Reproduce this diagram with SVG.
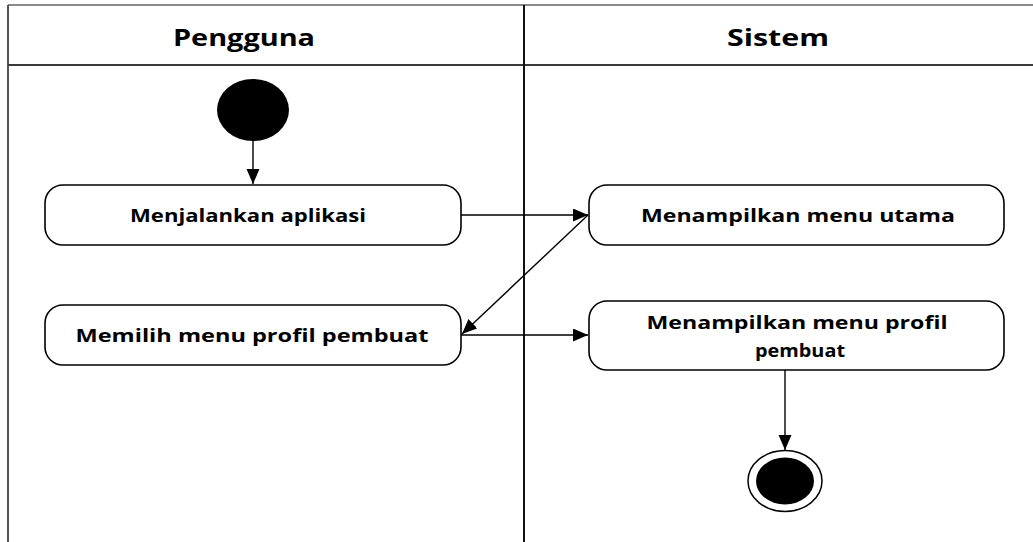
<svg xmlns="http://www.w3.org/2000/svg" width="1033" height="542" viewBox="0 0 1033 542">
  <style>
    .lane { fill: none; stroke-width: 2; }
    .act { fill: #ffffff; stroke: #000000; stroke-width: 1.6; }
    .label { font-family: "Open Sans", "Liberation Sans", sans-serif; font-weight: bold; font-size: 18.5px; fill: #000000; text-anchor: middle; }
    .head { font-family: "Open Sans", "Liberation Sans", sans-serif; font-weight: bold; font-size: 24px; fill: #000000; text-anchor: middle; }
    .flow { fill: none; stroke: #000000; stroke-width: 1.4; marker-end: url(#arrow); }
  </style>
  <defs>
    <marker id="arrow" markerUnits="userSpaceOnUse" markerWidth="16" markerHeight="14" refX="15" refY="6.5" orient="auto">
      <path d="M0,0 L15,6.5 L0,13 Z" fill="#000000"/>
    </marker>
  </defs>

  <rect width="1033" height="542" fill="#ffffff"/>

  <!-- swimlane frame -->
  <g id="swimlanes">
    <line class="lane" x1="8" y1="5" x2="1033" y2="5" stroke="#8a8a8a"/>
    <line class="lane" x1="8" y1="5" x2="8" y2="542" stroke="#555555"/>
    <line class="lane" x1="8" y1="65" x2="1033" y2="65" stroke="#3a3a3a"/>
    <line class="lane" x1="524" y1="5" x2="524" y2="542" stroke="#111111" stroke-width="1.6"/>
    <text class="head" x="244" y="46" textLength="142" lengthAdjust="spacingAndGlyphs">Pengguna</text>
    <text class="head" x="778" y="46" textLength="102" lengthAdjust="spacingAndGlyphs">Sistem</text>
  </g>

  <!-- start node -->
  <g id="start">
    <ellipse cx="253" cy="110" rx="36" ry="31" fill="#000000"/>
  </g>

  <g id="menjalankan-aplikasi">
    <rect class="act" x="45" y="185" width="416" height="60" rx="18" ry="18"/>
    <text class="label" x="248" y="222" textLength="236" lengthAdjust="spacingAndGlyphs">Menjalankan aplikasi</text>
  </g>

  <g id="memilih-menu-profil">
    <rect class="act" x="45" y="305" width="416" height="60" rx="18" ry="18"/>
    <text class="label" x="252" y="342" textLength="353" lengthAdjust="spacingAndGlyphs">Memilih menu profil pembuat</text>
  </g>

  <g id="menampilkan-menu-utama">
    <rect class="act" x="589" y="185" width="415" height="60" rx="18" ry="18"/>
    <text class="label" x="798" y="222" textLength="314" lengthAdjust="spacingAndGlyphs">Menampilkan menu utama</text>
  </g>

  <g id="menampilkan-menu-profil">
    <rect class="act" x="589" y="301" width="415" height="69" rx="18" ry="18"/>
    <text class="label" x="797" y="329" textLength="301" lengthAdjust="spacingAndGlyphs">Menampilkan menu profil</text>
    <text class="label" x="800" y="357" textLength="90" lengthAdjust="spacingAndGlyphs">pembuat</text>
  </g>

  <!-- final node -->
  <g id="end">
    <ellipse cx="785" cy="481" rx="37" ry="30.5" fill="#ffffff" stroke="#000000" stroke-width="1.5"/>
    <ellipse cx="785" cy="481" rx="29" ry="23.5" fill="#000000"/>
  </g>

  <!-- control flows -->
  <g id="connectors">
    <line class="flow" x1="253" y1="141" x2="253" y2="184"/>
    <line class="flow" x1="461" y1="215" x2="588" y2="215"/>
    <line class="flow" x1="588" y1="215" x2="462" y2="334"/>
    <line class="flow" x1="461" y1="335" x2="588" y2="335"/>
    <line class="flow" x1="785" y1="370" x2="785" y2="450"/>
  </g>
</svg>
